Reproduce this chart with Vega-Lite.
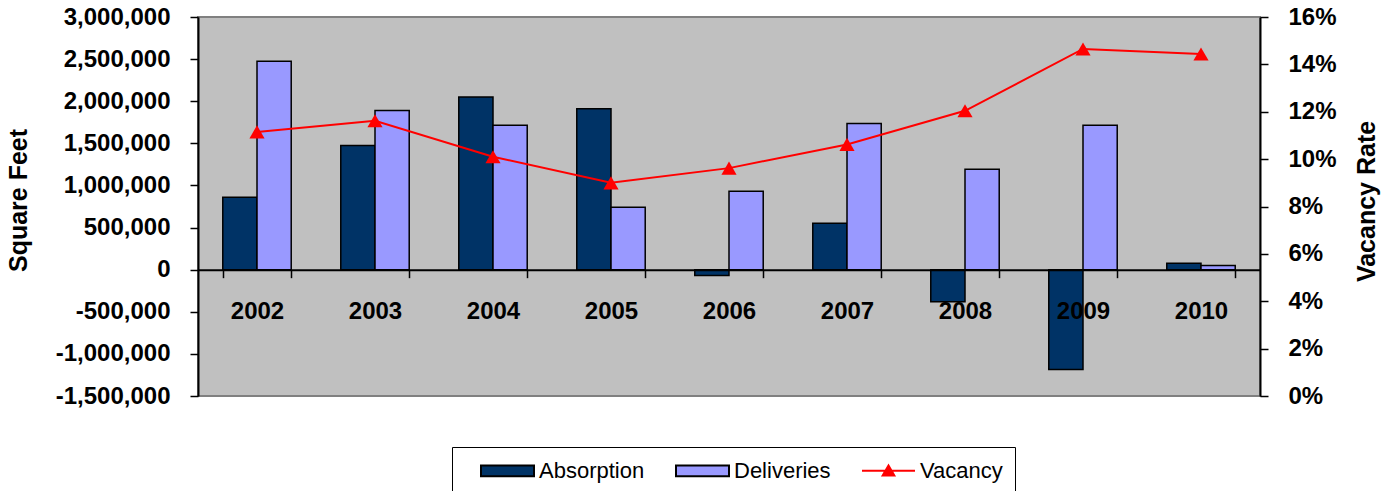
{
  "$schema": "https://vega.github.io/schema/vega-lite/v6.json",
  "width": 1062,
  "height": 379,
  "autosize": {"type": "none"},
  "padding": {"left": 198, "top": 17, "right": 130, "bottom": 95},
  "background": "white",
  "config": {
    "font": "Liberation Sans",
    "view": {"fill": "#C0C0C0", "stroke": "#808080", "strokeWidth": 2},
    "axis": {"domainColor": "black", "domainWidth": 2, "tickColor": "black", "tickWidth": 1.5, "labelColor": "black", "titleColor": "black", "grid": false}
  },
  "datasets": {
    "bars": [
      {"year": "2002", "series": "Absorption", "sf": 860000},
      {"year": "2002", "series": "Deliveries", "sf": 2475000},
      {"year": "2003", "series": "Absorption", "sf": 1475000},
      {"year": "2003", "series": "Deliveries", "sf": 1890000},
      {"year": "2004", "series": "Absorption", "sf": 2050000},
      {"year": "2004", "series": "Deliveries", "sf": 1715000},
      {"year": "2005", "series": "Absorption", "sf": 1910000},
      {"year": "2005", "series": "Deliveries", "sf": 740000},
      {"year": "2006", "series": "Absorption", "sf": -70000},
      {"year": "2006", "series": "Deliveries", "sf": 930000},
      {"year": "2007", "series": "Absorption", "sf": 550000},
      {"year": "2007", "series": "Deliveries", "sf": 1735000},
      {"year": "2008", "series": "Absorption", "sf": -380000},
      {"year": "2008", "series": "Deliveries", "sf": 1193000},
      {"year": "2009", "series": "Absorption", "sf": -1185000},
      {"year": "2009", "series": "Deliveries", "sf": 1715000},
      {"year": "2010", "series": "Absorption", "sf": 75000},
      {"year": "2010", "series": "Deliveries", "sf": 50000}
    ],
    "vacancy": [
      {"year": "2002", "rate": 0.1115},
      {"year": "2003", "rate": 0.1162},
      {"year": "2004", "rate": 0.1010},
      {"year": "2005", "rate": 0.0900},
      {"year": "2006", "rate": 0.0962},
      {"year": "2007", "rate": 0.1062},
      {"year": "2008", "rate": 0.1204},
      {"year": "2009", "rate": 0.1465},
      {"year": "2010", "rate": 0.1444}
    ]
  },
  "encoding": {
    "x": {
      "field": "year",
      "type": "nominal",
      "scale": {"paddingInner": 0.42, "paddingOuter": 0.21},
      "axis": {
        "orient": "bottom",
        "offset": -126.33,
        "title": null,
        "labelAngle": 0,
        "labelFontSize": 24,
        "labelFontWeight": "bold",
        "tickBand": "extent",
        "tickSize": 8,
        "labelPadding": 22,
        "zindex": 1
      }
    }
  },
  "layer": [
    {
      "data": {"name": "bars"},
      "mark": {"type": "bar", "stroke": "black", "strokeWidth": 1.5},
      "encoding": {
        "xOffset": {"field": "series", "type": "nominal", "sort": ["Absorption", "Deliveries"], "scale": {"paddingInner": 0, "paddingOuter": 0}},
        "y": {
          "field": "sf",
          "type": "quantitative",
          "scale": {"domain": [-1500000, 3000000], "nice": false},
          "axis": {
            "orient": "left",
            "title": "Square Feet",
            "values": [-1500000, -1000000, -500000, 0, 500000, 1000000, 1500000, 2000000, 2500000, 3000000],
            "labelExpr": "replace(format(datum.value, ',d'), '\u2212', '-')",
            "labelFontSize": 24,
            "labelFontWeight": "bold",
            "tickSize": 8,
            "labelPadding": 20,
            "titleFontSize": 25,
            "titleFontWeight": "bold",
            "titleAngle": -90,
            "titleX": -172,
            "titleY": 183,
            "titleAlign": "center",
            "titleBaseline": "alphabetic"
          }
        },
        "color": {
          "field": "series",
          "type": "nominal",
          "scale": {"domain": ["Absorption", "Deliveries", "Vacancy"], "range": ["#003366", "#9999FF", "#FF0000"]},
          "legend": {
            "orient": "none",
            "legendX": 254,
            "legendY": 430,
            "direction": "horizontal",
            "title": null,
            "symbolSize": 2809,
            "labelFont": "Liberation Sans",
            "labelFontSize": 22,
            "labelColor": "black",
            "strokeColor": "black",
            "fillColor": "white",
            "padding": 12,
            "columnPadding": 14,
            "labelOffset": 4,
            "symbolOffset": 16,
            "encoding": {
              "symbols": {
                "shape": {"condition": {"test": "datum.value === 'Vacancy'", "value": "M-1,-0.6H1M-0.22,-0.42L0,-0.8L0.22,-0.42Z"}, "value": "M-1,-0.8H1V-0.4H-1Z"},
                "stroke": {"condition": {"test": "datum.value === 'Vacancy'", "value": "#FF0000"}, "value": "black"},
                "strokeWidth": {"value": 2},
                "opacity": {"value": 1}
              },
              "labels": {
                "dy": {"value": -16}
              }
            }
          }
        }
      }
    },
    {
      "data": {"name": "vacancy"},
      "mark": {"type": "line", "color": "#FF0000", "strokeWidth": 2, "point": {"shape": "triangle-up", "size": 230, "filled": true, "color": "#FF0000"}},
      "encoding": {
        "y": {
          "field": "rate",
          "type": "quantitative",
          "scale": {"domain": [0, 0.16], "nice": false},
          "axis": {
            "orient": "right",
            "title": "Vacancy Rate",
            "values": [0, 0.02, 0.04, 0.06, 0.08, 0.1, 0.12, 0.14, 0.16],
            "format": ".0%",
            "labelFontSize": 24,
            "labelFontWeight": "bold",
            "tickSize": 8,
            "labelPadding": 20,
            "titleFontSize": 25,
            "titleFontWeight": "bold",
            "titleAngle": -90,
            "titleX": 114,
            "titleY": 184,
            "titleAlign": "center",
            "titleBaseline": "alphabetic"
          }
        }
      }
    }
  ],
  "resolve": {"scale": {"y": "independent"}}
}
